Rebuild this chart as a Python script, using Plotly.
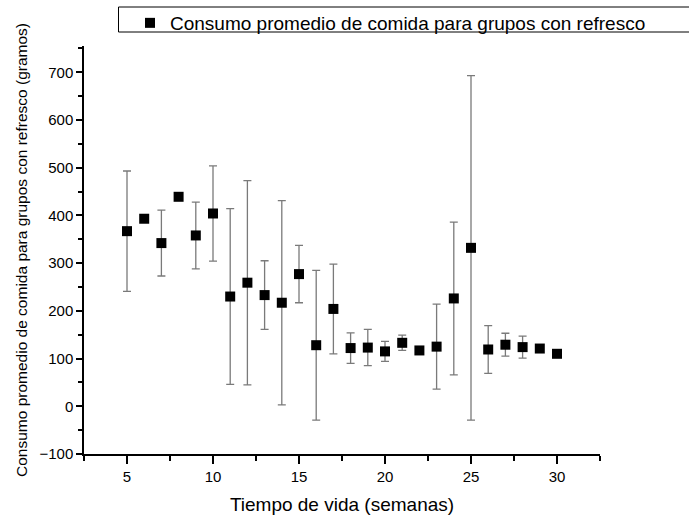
import plotly.graph_objects as go

semanas = [5, 6, 7, 8, 9, 10, 11, 12, 13, 14, 15, 16, 17, 18, 19, 20, 21, 22, 23, 24, 25, 26, 27, 28, 29, 30]
consumo = [367, 393, 342, 439, 358, 404, 230, 259, 233, 217, 277, 128, 204, 122, 123, 115, 133, 117, 125, 226, 332, 119, 129, 124, 121, 110]
error = [126, 0, 69, 0, 70, 100, 184, 214, 72, 214, 60, 157, 94, 32, 38, 21, 16, 0, 89, 160, 361, 50, 24, 23, 0, 0]

serie = "Consumo promedio de comida para grupos con refresco"
eje_x = "Tiempo de vida (semanas)"
eje_y = "Consumo promedio de comida para grupos con refresco (gramos)"

W, H = 689, 521
L, R, T, B = 84, 89, 46, 67
ph = H - T - B
pw = W - L - R

fig = go.Figure()
fig.add_trace(go.Scatter(
    x=semanas, y=consumo, mode="markers", name=serie,
    marker=dict(symbol="square", size=10, color="black"),
    error_y=dict(type="data", array=error, visible=True, color="#7a7a7a", thickness=1.3, width=4),
    showlegend=True,
))

font = "Liberation Sans, Arial, sans-serif"

fig.update_layout(
    width=W, height=H,
    margin=dict(l=L, r=R, t=T, b=B, autoexpand=False),
    paper_bgcolor="white", plot_bgcolor="white",
    font=dict(family=font, color="black", size=15),
    showlegend=True,
    legend=dict(
        x=(130 - L) / pw, xanchor="left",
        y=(H - B - 4) / ph, yanchor="top",
        bgcolor="rgba(0,0,0,0)", borderwidth=0,
        font=dict(size=19, family=font),
    ),
    shapes=[dict(
        type="rect", xref="paper", yref="paper",
        x0=(118.5 - L) / pw, x1=(700 - L) / pw,
        y0=(H - B - 32) / ph, y1=(H - B - 7) / ph,
        line=dict(color="black", width=1), fillcolor="rgba(0,0,0,0)",
    )],
    xaxis=dict(
        range=[2.5, 32.5], tickmode="array", tickvals=[5, 10, 15, 20, 25, 30],
        showline=True, linecolor="black", linewidth=1.5, mirror=False,
        ticks="outside", ticklen=8, tickwidth=1.5, tickcolor="black",
        minor=dict(tickvals=[2.5, 7.5, 12.5, 17.5, 22.5, 27.5, 32.5], ticks="outside", ticklen=5, tickwidth=1.5, tickcolor="black"),
        showgrid=False, zeroline=False,
        tickfont=dict(size=15),
        title=dict(text=eje_x, font=dict(size=19), standoff=14),
    ),
    yaxis=dict(
        range=[-100, 755], tickmode="array", tickvals=[-100, 0, 100, 200, 300, 400, 500, 600, 700],
        showline=True, linecolor="black", linewidth=1.5, mirror=False,
        ticks="outside", ticklen=6, tickwidth=1.5, tickcolor="black",
        minor=dict(tickvals=[-50, 50, 150, 250, 350, 450, 550, 650, 750], ticks="outside", ticklen=4, tickwidth=1.5, tickcolor="black"),
        showgrid=False, zeroline=False,
        tickfont=dict(size=15),
        title=dict(text=eje_y, font=dict(size=15.5), standoff=8),
    ),
)

fig.write_html("out.html")
